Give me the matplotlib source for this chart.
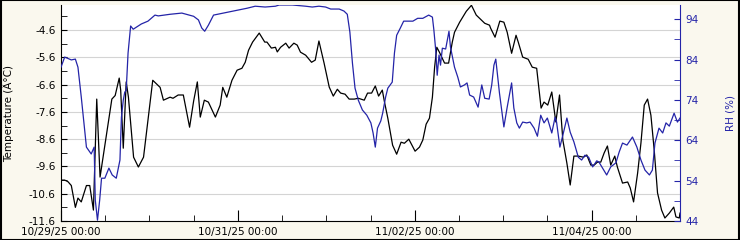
import numpy as np
import pandas as pd
import matplotlib
matplotlib.use("Agg")
import matplotlib.pyplot as plt
import matplotlib.dates as mdates
from matplotlib.ticker import FixedLocator

# hours since 10/29/25 00:00
temp_hours = [0, 1.0, 1.9, 2.8, 3.9, 4.6, 5.5, 6.9, 7.8, 8.8, 9.7, 10.6, 13.8, 14.7,
              15.8, 16.2, 16.9, 17.7, 18.3, 19.7, 21.0, 22.4, 24.9, 26.9, 27.8, 29.6,
              30.4, 31.8, 33.2, 34.9, 36.0, 37.0, 37.8, 38.9, 40.0, 41.9, 43.2, 43.9,
              45.0, 46.4, 47.8, 49.1, 50.0, 50.9, 52.0, 53.8, 55.3, 55.9, 57.1, 58.2,
              58.7, 59.6, 61.0, 61.9, 63.2, 64.1, 65.0, 66.4, 68.0, 69.0, 70.0, 71.4,
              72.8, 73.9, 75.0, 75.9, 77.1, 78.2, 79.6, 80.7, 82.3, 83.2, 84.3, 85.3,
              86.2, 87.2, 87.8, 88.7, 90.0, 91.1, 92.3, 93.2, 94.4, 95.5, 96.1, 97.3,
              98.2, 99.1, 100.0, 100.8, 101.4, 102.0, 102.7, 104.1, 105.2, 106.2, 106.8,
              108.2, 110.0, 111.4, 112.7, 115.0, 116.3, 116.6, 117.8, 119.1, 120.2,
              121.1, 122.3, 123.5, 124.1, 125.3, 126.8, 127.9, 129.1, 130.3, 131.1,
              132.1, 133.2, 134.3, 135.3, 136.2, 137.3, 138.2, 139.2, 140.4, 141.8,
              142.7, 143.8, 144.7, 145.6, 146.5, 147.4, 148.3, 149.2, 150.3, 151.0,
              152.4, 153.8, 154.5, 155.4, 156.5, 157.4, 158.3, 159.2, 160.1, 161.0,
              161.9, 163.0, 163.9, 165.1, 166.3, 166.9, 167.8, 168.0]
temp = [-10.1, -10.1, -10.16, -10.3, -11.1, -10.76, -10.9, -10.3, -10.3, -11.2, -7.13,
        -9.99, -7.13, -7.0, -6.36, -6.8, -8.93, -6.5, -7.06, -9.26, -9.62, -9.26, -6.44,
        -6.7, -7.17, -7.06, -7.1, -6.98, -6.98, -8.16, -7.2, -6.5, -7.79, -7.17, -7.24,
        -7.79, -7.35, -6.7, -7.06, -6.44, -6.07, -6.0, -5.78, -5.34, -5.04, -4.71, -5.04,
        -5.04, -5.26, -5.23, -5.4, -5.23, -5.08, -5.26, -5.08, -5.15, -5.41, -5.52,
        -5.78, -5.7, -5.0, -5.81, -6.69, -7.02, -6.77, -6.91, -6.95, -7.13, -7.13, -7.1,
        -7.17, -6.91, -6.91, -6.65, -7.02, -6.8, -7.24, -7.83, -8.82, -9.15, -8.71,
        -8.75, -8.6, -8.89, -9.04, -8.89, -8.63, -8.05, -7.83, -7.06, -5.96, -5.23,
        -5.41, -5.81, -5.81, -5.04, -4.68, -4.31, -3.91, -3.69, -4.05, -4.35, -4.42,
        -4.53, -4.86, -4.27, -4.31, -4.68, -5.45, -4.79, -5.04, -5.59, -5.67, -5.96,
        -6.0, -7.46, -7.24, -7.35, -6.87, -7.97, -6.98, -8.63, -9.48, -10.28, -9.22,
        -9.22, -9.26, -9.18, -9.55, -9.55, -9.44, -9.44, -9.11, -8.85, -9.55, -9.22,
        -9.62, -10.21, -10.17, -10.39, -10.9, -9.84, -8.74, -7.35, -7.13, -7.72, -9.0,
        -10.57, -11.2, -11.49, -11.31, -11.09, -11.45, -11.49, -11.31]

rh_hours = [0, 1.0, 2.8, 3.9, 4.6, 5.5, 6.9, 8.2, 9.0, 9.3, 9.9, 10.5, 11.0, 11.9, 13.0,
            13.9, 15.0, 16.0, 16.4, 16.9, 17.3, 17.7, 18.2, 18.9, 19.6, 21.8, 23.6, 25.5,
            26.4, 29.6, 32.8, 36.0, 37.3, 38.2, 39.0, 40.0, 41.4, 44.1, 47.8, 50.5, 52.7,
            55.4, 58.2, 59.2, 62.8, 66.4, 68.2, 70.0, 71.8, 73.2, 75.5, 76.8, 77.7, 78.4,
            79.1, 79.8, 80.7, 81.8, 83.0, 84.1, 84.7, 85.3, 85.9, 86.8, 87.3, 88.1, 88.7,
            89.9, 90.5, 91.1, 92.1, 93.0, 95.5, 96.8, 98.2, 99.8, 100.8, 101.2, 101.7,
            102.1, 102.6, 103.0, 103.5, 104.4, 105.3, 105.7, 106.8, 107.7, 108.4, 109.5,
            110.2, 110.9, 112.0, 113.2, 114.2, 115.0, 116.2, 116.9, 117.5, 118.0, 119.0,
            120.2, 121.1, 122.3, 122.9, 123.7, 124.4, 125.3, 126.4, 127.3, 128.4, 129.3,
            130.2, 131.1, 132.0, 133.2, 134.1, 134.5, 135.4, 136.4, 137.3, 138.2, 139.2,
            140.4, 141.3, 142.2, 143.2, 144.3, 145.4, 146.0, 147.0, 148.1, 149.2, 150.6,
            151.5, 152.4, 153.6, 155.1, 156.3, 157.4, 158.5, 159.7, 160.5, 161.2, 162.3,
            163.3, 164.2, 165.1, 166.4, 167.3, 168.0]
rh = [82.1, 84.6, 83.9, 84.1, 82.1, 74.7, 62.3, 60.6, 62.3, 49.2, 44.2, 49.2, 54.6,
      54.6, 57.1, 55.4, 54.6, 59.1, 69.7, 73.9, 75.9, 76.4, 85.6, 92.3, 91.5, 92.8, 93.5,
      95.0, 94.8, 95.2, 95.5, 94.7, 93.8, 91.8, 91.0, 92.5, 95.0, 95.5, 96.2, 96.7, 97.2,
      97.0, 97.2, 97.5, 97.5, 97.2, 97.0, 97.2, 97.0, 96.5, 96.5, 96.0, 95.2, 90.8, 83.1,
      76.9, 73.9, 71.5, 70.2, 68.3, 65.8, 62.3, 67.0, 68.8, 70.7, 74.7, 76.9, 78.4, 85.6,
      90.0, 91.8, 93.5, 93.5, 94.2, 94.2, 95.0, 94.5, 91.3, 86.3, 80.1, 85.1, 82.6, 86.8,
      86.6, 91.0, 87.1, 82.1, 79.6, 77.2, 77.7, 78.2, 75.2, 74.7, 72.2, 77.7, 74.4, 74.2,
      77.7, 82.6, 84.1, 75.7, 67.3, 72.2, 78.2, 72.0, 68.3, 67.0, 68.5, 68.3, 68.5, 67.0,
      65.0, 70.2, 68.3, 69.5, 65.8, 69.7, 68.5, 62.3, 66.0, 69.5, 66.0, 63.6, 59.8, 59.1,
      60.3, 59.8, 57.4, 58.9, 58.6, 57.1, 55.4, 57.4, 58.4, 61.1, 63.3, 62.8, 64.8, 62.3,
      59.1, 56.6, 55.4, 56.6, 63.3, 67.0, 65.8, 68.3, 67.5, 70.7, 68.5, 69.5]

start = pd.Timestamp("2025-10-29 00:00")
t_temp = start + pd.to_timedelta(temp_hours, unit="h")
t_rh = start + pd.to_timedelta(rh_hours, unit="h")

bg = "#faf8ee"
blue = "#2424a8"

fig = plt.figure(figsize=(7.4, 2.4), dpi=100, facecolor=bg)
ax = fig.add_axes([61/740, 1 - 221/240, 619/740, 216/240])
ax.set_facecolor("white")
ax2 = ax.twinx()

ax.plot(t_temp, temp, color="black", lw=0.9, zorder=3)
ax2.plot(t_rh, rh, color=blue, lw=0.9)

ax.set_xlim(start, start + pd.Timedelta(days=7))
ax.set_ylim(-11.6, -3.68)
ax2.set_ylim(44, 97.5)

ax.yaxis.set_major_locator(FixedLocator(np.arange(-11.6, -4.0, 1.0)))
ax.yaxis.set_minor_locator(FixedLocator(np.arange(-11.1, -3.7, 1.0)))
ax.set_yticklabels([f"{v:.1f}" for v in np.arange(-11.6, -4.0, 1.0)])
ax2.yaxis.set_major_locator(FixedLocator(np.arange(44, 95, 10)))
ax2.yaxis.set_minor_locator(FixedLocator(np.arange(49, 95, 10)))

major_days = [start + pd.Timedelta(days=d) for d in (0, 2, 4, 6)]
ax.xaxis.set_major_locator(FixedLocator(mdates.date2num(major_days)))
ax.xaxis.set_minor_locator(mdates.HourLocator(byhour=[0, 12]))
ax.xaxis.set_major_formatter(mdates.DateFormatter("%m/%d/%y %H:%M"))

ax.grid(axis="y", which="major", color="#d4d4d4", lw=0.8)
ax.set_axisbelow(True)

fs = 7.5
ax.tick_params(axis="both", which="both", direction="in", labelsize=fs, color="black")
ax.tick_params(axis="y", which="both", length=4, pad=4)
ax.tick_params(axis="x", which="major", length=8, pad=4.5)
ax.tick_params(axis="x", which="minor", length=4)
ax2.tick_params(axis="y", which="both", direction="in", length=4, pad=4,
                color=blue, labelcolor=blue, labelsize=fs)

for a in (ax, ax2):
    a.spines["top"].set_visible(False)
ax.spines["right"].set_visible(False)
ax2.spines["left"].set_visible(False)
ax2.spines["bottom"].set_visible(False)
ax2.spines["right"].set_color(blue)

ax.set_ylabel("Temperature (Â°C)", fontsize=fs, labelpad=10)
ax2.set_ylabel("RH (%)", fontsize=fs, color=blue, labelpad=19)

fig.patches.append(plt.Rectangle((0.001, 0.002), 0.998, 0.996, transform=fig.transFigure,
                                 fill=False, edgecolor="black", lw=1.5))

fig.savefig("out.png", dpi=100, facecolor=bg)
